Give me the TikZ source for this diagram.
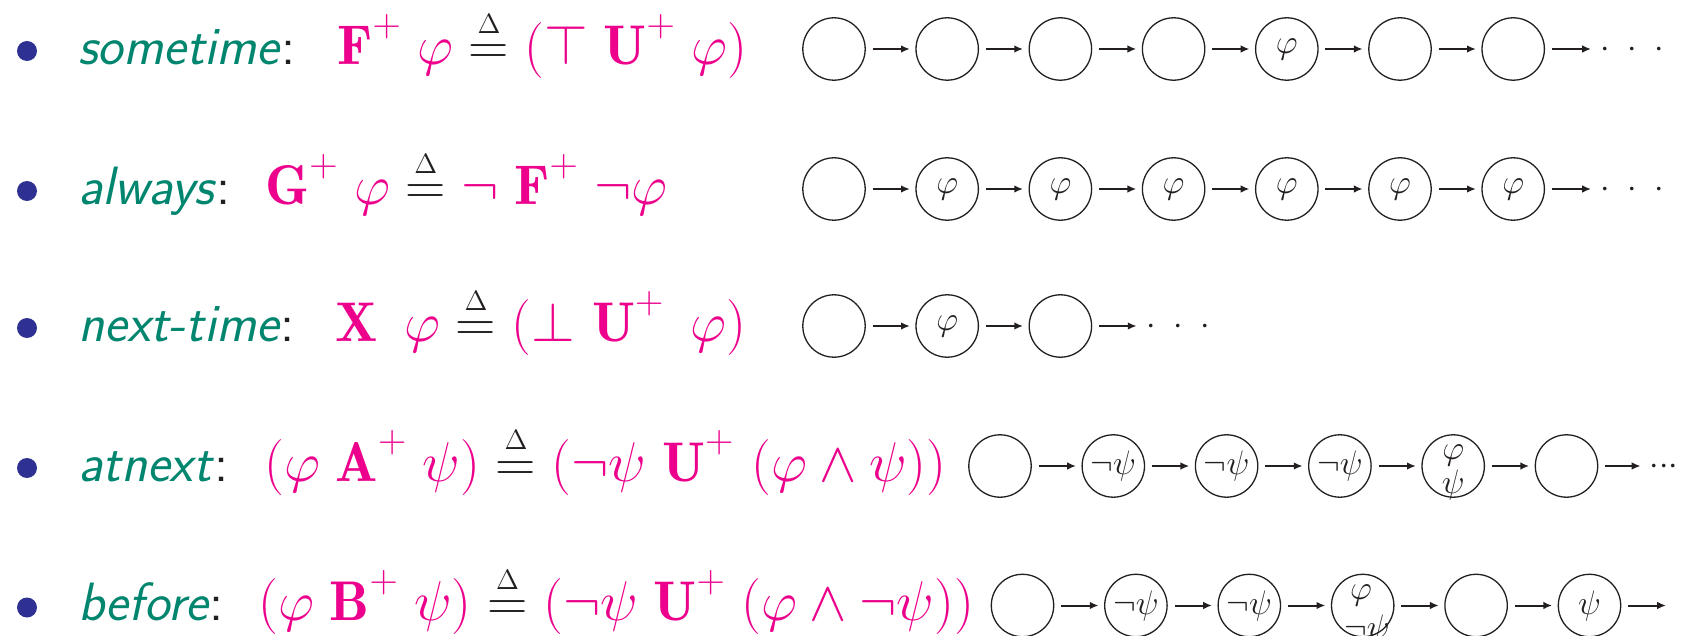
\documentclass[tikz,border=0pt]{standalone}
\usepackage{fix-cm}
\usepackage{amsmath,amssymb}
\usepackage{fontspec}
\usetikzlibrary{arrows.meta}
\definecolor{tealtx}{RGB}{0,133,110}
\definecolor{mag}{RGB}{236,0,140}
\definecolor{bul}{RGB}{46,49,146}
\definecolor{ink}{RGB}{35,31,32}
\newcommand{\mydefeq}{\mathrel{\textcolor{ink}{\stackrel{\scriptscriptstyle\Delta}{=}}}}
\newcommand{\pl}{^{\raisebox{4pt}{$\scriptstyle+$}}}
\tikzset{
  lab/.style={anchor=base west, inner sep=0pt, font=\fontsize{27}{32}\selectfont\sffamily, text=tealtx},
  frm/.style={anchor=base west, inner sep=0pt, font=\fontsize{28}{32}\selectfont, text=mag},
  bulletdot/.style={circle, fill=bul, inner sep=0pt, minimum size=10pt},
  st/.style={circle, draw=ink, line width=0.65pt, minimum size=31.2pt, inner sep=0pt, font=\fontsize{17}{17}\selectfont, text=ink},
  stxt/.style={anchor=base, inner sep=0pt, font=\fontsize{17}{17}\selectfont, text=ink},
  arr/.style={draw=ink, line width=1pt, -{Latex[length=4.4pt,width=3.8pt]}, shorten <=3.4pt, shorten >=2.75pt},
  dotsnode/.style={anchor=base west, inner sep=0pt, font=\fontsize{17}{17}\selectfont, text=ink}
}
\begin{document}
\begin{tikzpicture}[x=0.5pt,y=-0.5pt]
\clip (0,0) rectangle (1681,636);
\fill[white] (0,0) rectangle (1681,636);
% ---------- row 1 ----------
\node[bulletdot] (b1) at (27,51) {};
\node[lab] (l1) at (78,64.5) {{\itshape sometime\/}\textcolor{ink}{:}};
\node[frm] (f1) at (337,64.5) {$\mathbf{F}\pl\;\varphi\mydefeq(\top\;\mathbf{U}\pl\;\varphi)$};
\node[st] (a1) at (834,49) {};
\node[st] (a2) at (947.2,49) {};
\node[st] (a3) at (1060.4,49) {};
\node[st] (a4) at (1173.6,49) {};
\node[st] (a5) at (1286.8,49) {$\varphi$};
\node[st] (a6) at (1400,49) {};
\node[st] (a7) at (1513.2,49) {};
\coordinate (ae) at (1591,49);
\node[dotsnode] (ad) at (1600.3,57.5) {$\cdot\hspace{5.05pt}\cdot\hspace{5.05pt}\cdot$};
\draw[arr] (a1) -- (a2);
\draw[arr] (a2) -- (a3);
\draw[arr] (a3) -- (a4);
\draw[arr] (a4) -- (a5);
\draw[arr] (a5) -- (a6);
\draw[arr] (a6) -- (a7);
\draw[arr, shorten >=0pt] (a7) -- (ae);
% ---------- row 2 ----------
\node[bulletdot] (b2) at (27,191) {};
\node[lab] (l2) at (78,204.5) {{\itshape always\/}\textcolor{ink}{:}};
\node[frm] (f2) at (265,204.5) {$\mathbf{G}\pl\;\varphi\mydefeq\neg\;\mathbf{F}\pl\;\neg\varphi$};
\node[st] (g1) at (834,189) {};
\node[st] (g2) at (947.2,189) {$\varphi$};
\node[st] (g3) at (1060.4,189) {$\varphi$};
\node[st] (g4) at (1173.6,189) {$\varphi$};
\node[st] (g5) at (1286.8,189) {$\varphi$};
\node[st] (g6) at (1400,189) {$\varphi$};
\node[st] (g7) at (1513.2,189) {$\varphi$};
\coordinate (ge) at (1591,189);
\node[dotsnode] (gd) at (1600.3,197.5) {$\cdot\hspace{5.05pt}\cdot\hspace{5.05pt}\cdot$};
\draw[arr] (g1) -- (g2);
\draw[arr] (g2) -- (g3);
\draw[arr] (g3) -- (g4);
\draw[arr] (g4) -- (g5);
\draw[arr] (g5) -- (g6);
\draw[arr] (g6) -- (g7);
\draw[arr, shorten >=0pt] (g7) -- (ge);
% ---------- row 3 ----------
\node[bulletdot] (b3) at (27,328) {};
\node[lab] (l3) at (78,341.5) {{\itshape next-time\/}\textcolor{ink}{:}};
\node[frm] (f3) at (335.5,341.5) {$\mathbf{X}\ \,\varphi\mydefeq(\bot\ \mathbf{U}\pl\ \,\varphi)$};
\node[st] (x1) at (834,326) {};
\node[st] (x2) at (947.2,326) {$\varphi$};
\node[st] (x3) at (1060.4,326) {};
\coordinate (xe) at (1136.6,326);
\node[dotsnode] (xd) at (1146.1,334.5) {$\cdot\hspace{5.05pt}\cdot\hspace{5.05pt}\cdot$};
\draw[arr] (x1) -- (x2);
\draw[arr] (x2) -- (x3);
\draw[arr, shorten >=0pt] (x3) -- (xe);
% ---------- row 4 ----------
\node[bulletdot] (b4) at (27,468) {};
\node[lab] (l4) at (78,481) {{\itshape atnext\/}\textcolor{ink}{:}};
\node[frm] (f4) at (264,481) {$(\varphi\;\mathbf{A}\pl\;\psi)\mydefeq(\neg\psi\;\mathbf{U}\pl\ (\varphi\wedge\psi))$};
\node[st] (n1) at (1000,466) {};
\node[st] (n2) at (1113.3,466) {$\neg\psi$};
\node[st] (n3) at (1226.6,466) {$\neg\psi$};
\node[st] (n4) at (1339.9,466) {$\neg\psi$};
\node[st] (n5) at (1453.2,466) {};
\node[stxt] (n5a) at (1453.2,459) {$\varphi$};
\node[stxt] (n5b) at (1453.2,493) {$\psi$};
\node[st] (n6) at (1566.5,466) {};
\coordinate (ne) at (1640.5,466);
\node[dotsnode] (nd) at (1649.3,474.5) {${\cdot}{\cdot}{\cdot}$};
\draw[arr] (n1) -- (n2);
\draw[arr] (n2) -- (n3);
\draw[arr] (n3) -- (n4);
\draw[arr] (n4) -- (n5);
\draw[arr] (n5) -- (n6);
\draw[arr, shorten >=0pt] (n6) -- (ne);
% ---------- row 5 ----------
\node[bulletdot] (b5) at (27,607.5) {};
\node[lab] (l5) at (78,620.5) {{\itshape before\/}\textcolor{ink}{:}};
\node[frm] (f5) at (258,620.5) {$(\varphi\;\mathbf{B}\pl\;\psi)\mydefeq(\neg\psi\;\mathbf{U}\pl\;(\varphi\wedge\neg\psi))$};
\node[st] (e1) at (1022.5,605.5) {};
\node[st] (e2) at (1135.9,605.5) {$\neg\psi$};
\node[st] (e3) at (1249.3,605.5) {$\neg\psi$};
\node[st] (e4) at (1362.7,605.5) {};
\node[stxt] (e4a) at (1361,599) {$\varphi$};
\node[stxt] (e4b) at (1367,638) {$\neg\psi$};
\node[st] (e5) at (1476.1,605.5) {};
\node[st] (e6) at (1589.5,605.5) {$\psi$};
\coordinate (ee) at (1666,605.5);
\draw[arr] (e1) -- (e2);
\draw[arr] (e2) -- (e3);
\draw[arr] (e3) -- (e4);
\draw[arr] (e4) -- (e5);
\draw[arr] (e5) -- (e6);
\draw[arr, shorten >=0pt] (e6) -- (ee);
\end{tikzpicture}
\end{document}
